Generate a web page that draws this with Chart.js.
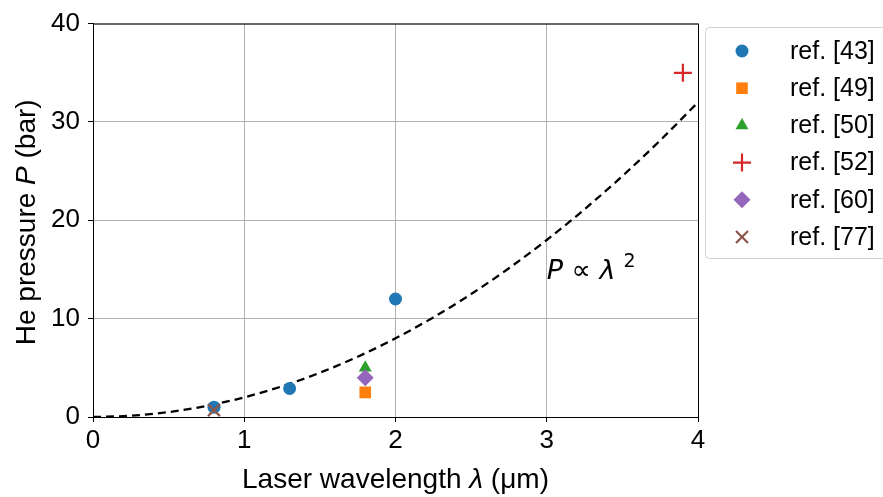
<!DOCTYPE html>
<html>
<head>
<meta charset="utf-8">
<script src="https://cdn.jsdelivr.net/npm/chart.js@4.4.0/dist/chart.umd.min.js"></script>
<style>
  html, body { margin: 0; padding: 0; background: #fff; }
  #wrap { width: 883px; height: 497px; position: relative; }
</style>
</head>
<body>
<div id="wrap"><canvas id="c" width="883" height="497"></canvas></div>
<script>
/* ---------- data ---------- */
const ref43 = [{ x: 0.8, y: 1.0 }, { x: 1.3, y: 2.9 }, { x: 2.0, y: 12.0 }];
const ref49 = [{ x: 1.8, y: 2.5 }];
const ref50 = [{ x: 1.8, y: 5.0 }];
const ref52 = [{ x: 3.9, y: 35.0 }];
const ref60 = [{ x: 1.8, y: 4.0 }];
const ref77 = [{ x: 0.8, y: 0.7 }];

// P ∝ λ² guide curve
const fitLambda = [0, 0.25, 0.5, 0.75, 1, 1.25, 1.5, 1.75, 2, 2.25, 2.5, 2.75, 3, 3.25, 3.5, 3.75, 4];
const fitP = [0, 0.125, 0.5, 1.125, 2, 3.125, 4.5, 6.125, 8, 10.125, 12.5, 15.125, 18, 21.125, 24.5, 28.125, 32];

const xTicks = [0, 1, 2, 3, 4];
const yTicks = [0, 10, 20, 30, 40];

const FONT = "'Liberation Sans', Arial, sans-serif";
const MATH = "'DejaVu Sans', sans-serif";

/* ---------- series ---------- */
const series = [
  { label: "ref. [43]", data: ref43, color: "#1f77b4", style: "circle", r: 6.5, bw: 0 },
  { label: "ref. [49]", data: ref49, color: "#ff7f0e", style: "rect", r: 8.2, bw: 0 },
  { label: "ref. [50]", data: ref50, color: "#2ca02c", style: "triangle", r: 7.5, bw: 0 },
  { label: "ref. [52]", data: ref52, color: "#d62728", style: "cross", r: 9, bw: 2.2 },
  { label: "ref. [60]", data: ref60, color: "#9467bd", style: "rectRot", r: 8.5, bw: 0 },
  { label: "ref. [77]", data: ref77, color: "#8c564b", style: "crossRot", r: 8.5, bw: 2.2 },
];

// later series sit on top (lower order = drawn last)
const datasets = series.map((s, i) => ({
  type: "scatter",
  label: s.label,
  data: s.data,
  pointStyle: s.style,
  pointRadius: s.r,
  pointHoverRadius: s.r,
  pointBackgroundColor: s.color,
  pointBorderColor: s.color,
  pointBorderWidth: s.bw,
  order: series.length - i,
}));

datasets.push({
  type: "line",
  label: "fit",
  data: fitLambda.map((x, i) => ({ x, y: fitP[i] })),
  borderColor: "#000",
  borderWidth: 2.3,
  borderDash: [8, 5],
  pointRadius: 0,
  cubicInterpolationMode: "monotone",
  fill: false,
  order: 100,
});

/* ---------- extra drawing: frame, titles, annotation, legend ---------- */
function drawParts(ctx, parts, size, cx, cy) {
  let total = 0;
  parts.forEach(([t, st]) => {
    ctx.font = `${st} ${size}px ${FONT}`;
    total += ctx.measureText(t).width;
  });
  let x = cx - total / 2;
  ctx.textAlign = "left";
  ctx.textBaseline = "alphabetic";
  parts.forEach(([t, st]) => {
    ctx.font = `${st} ${size}px ${FONT}`;
    ctx.fillText(t, x, cy);
    x += ctx.measureText(t).width;
  });
}

const decor = {
  id: "decor",
  afterDraw(chart) {
    const { ctx, chartArea: a } = chart;
    ctx.save();

    // full box around the axes
    ctx.strokeStyle = "#000";
    ctx.lineWidth = 1;
    ctx.strokeRect(a.left + 0.5, a.top + 0.5, a.right - a.left, a.bottom - a.top);

    // axis titles
    ctx.fillStyle = "#000";
    drawParts(ctx, [
      ["Laser wavelength ", "normal"],
      ["λ", "italic"],
      [" (μm)", "normal"],
    ], 28, (a.left + a.right) / 2, 488);

    ctx.save();
    ctx.translate(35, (a.top + a.bottom) / 2 + 2);
    ctx.rotate(-Math.PI / 2);
    drawParts(ctx, [
      ["He pressure ", "normal"],
      ["P", "italic"],
      [" (bar)", "normal"],
    ], 28, 0, 0);
    ctx.restore();

    // curve annotation
    const xs = chart.scales.x, ys = chart.scales.y;
    let px = xs.getPixelForValue(3.0);
    const py = ys.getPixelForValue(14.0);
    ctx.textAlign = "left";
    ctx.textBaseline = "alphabetic";
    const seg = (t, f) => {
      ctx.font = f;
      ctx.fillText(t, px, py);
      px += ctx.measureText(t).width;
    };
    seg("P", "italic 27px " + MATH);
    seg(" ∝ ", "27px " + MATH);
    seg("λ", "italic 27px " + MATH);
    ctx.font = "19px " + MATH;
    ctx.fillText("2", px + 8, py - 12);

    // legend box
    const lx = 705, ly = 27, lw = 190, lh = 231;
    ctx.fillStyle = "rgba(255,255,255,0.8)";
    ctx.strokeStyle = "#d0d0d0";
    ctx.lineWidth = 1;
    ctx.beginPath();
    ctx.roundRect(lx + 0.5, ly + 0.5, lw, lh, 4);
    ctx.fill();
    ctx.stroke();

    series.forEach((s, i) => {
      const cy = 51 + i * 37.2;
      ctx.fillStyle = s.color;
      ctx.strokeStyle = s.color;
      ctx.lineWidth = s.bw;
      Chart.helpers.drawPoint(ctx, {
        pointStyle: s.style, radius: s.r, rotation: 0, borderWidth: s.bw,
      }, 742, cy);
      ctx.fillStyle = "#000";
      ctx.font = "25px " + FONT;
      ctx.textAlign = "left";
      ctx.textBaseline = "middle";
      ctx.fillText(s.label, 790, cy + 1);
    });

    ctx.restore();
  },
};

/* ---------- chart ---------- */
new Chart(document.getElementById("c"), {
  data: { datasets },
  options: {
    responsive: false,
    animation: false,
    layout: { padding: { top: 22, right: 185, left: 0, bottom: 0 } },
    plugins: { legend: { display: false }, tooltip: { enabled: false } },
    scales: {
      x: {
        type: "linear",
        min: 0, max: 4,
        afterBuildTicks: (s) => { s.ticks = xTicks.map((v) => ({ value: v })); },
        afterFit: (s) => { s.height = 80; },
        ticks: { color: "#000", font: { family: FONT, size: 26 }, padding: 3, maxRotation: 0 },
        grid: { color: "#b0b0b0", lineWidth: 1, tickColor: "#000", tickLength: 5 },
        border: { color: "#000", width: 1 },
      },
      y: {
        type: "linear",
        min: 0, max: 40,
        afterBuildTicks: (s) => { s.ticks = yTicks.map((v) => ({ value: v })); },
        afterFit: (s) => { s.width = 93; },
        ticks: { color: "#000", font: { family: FONT, size: 26 }, padding: 8 },
        grid: { color: "#b0b0b0", lineWidth: 1, tickColor: "#000", tickLength: 5 },
        border: { color: "#000", width: 1 },
      },
    },
  },
  plugins: [decor],
});
</script>
</body>
</html>
